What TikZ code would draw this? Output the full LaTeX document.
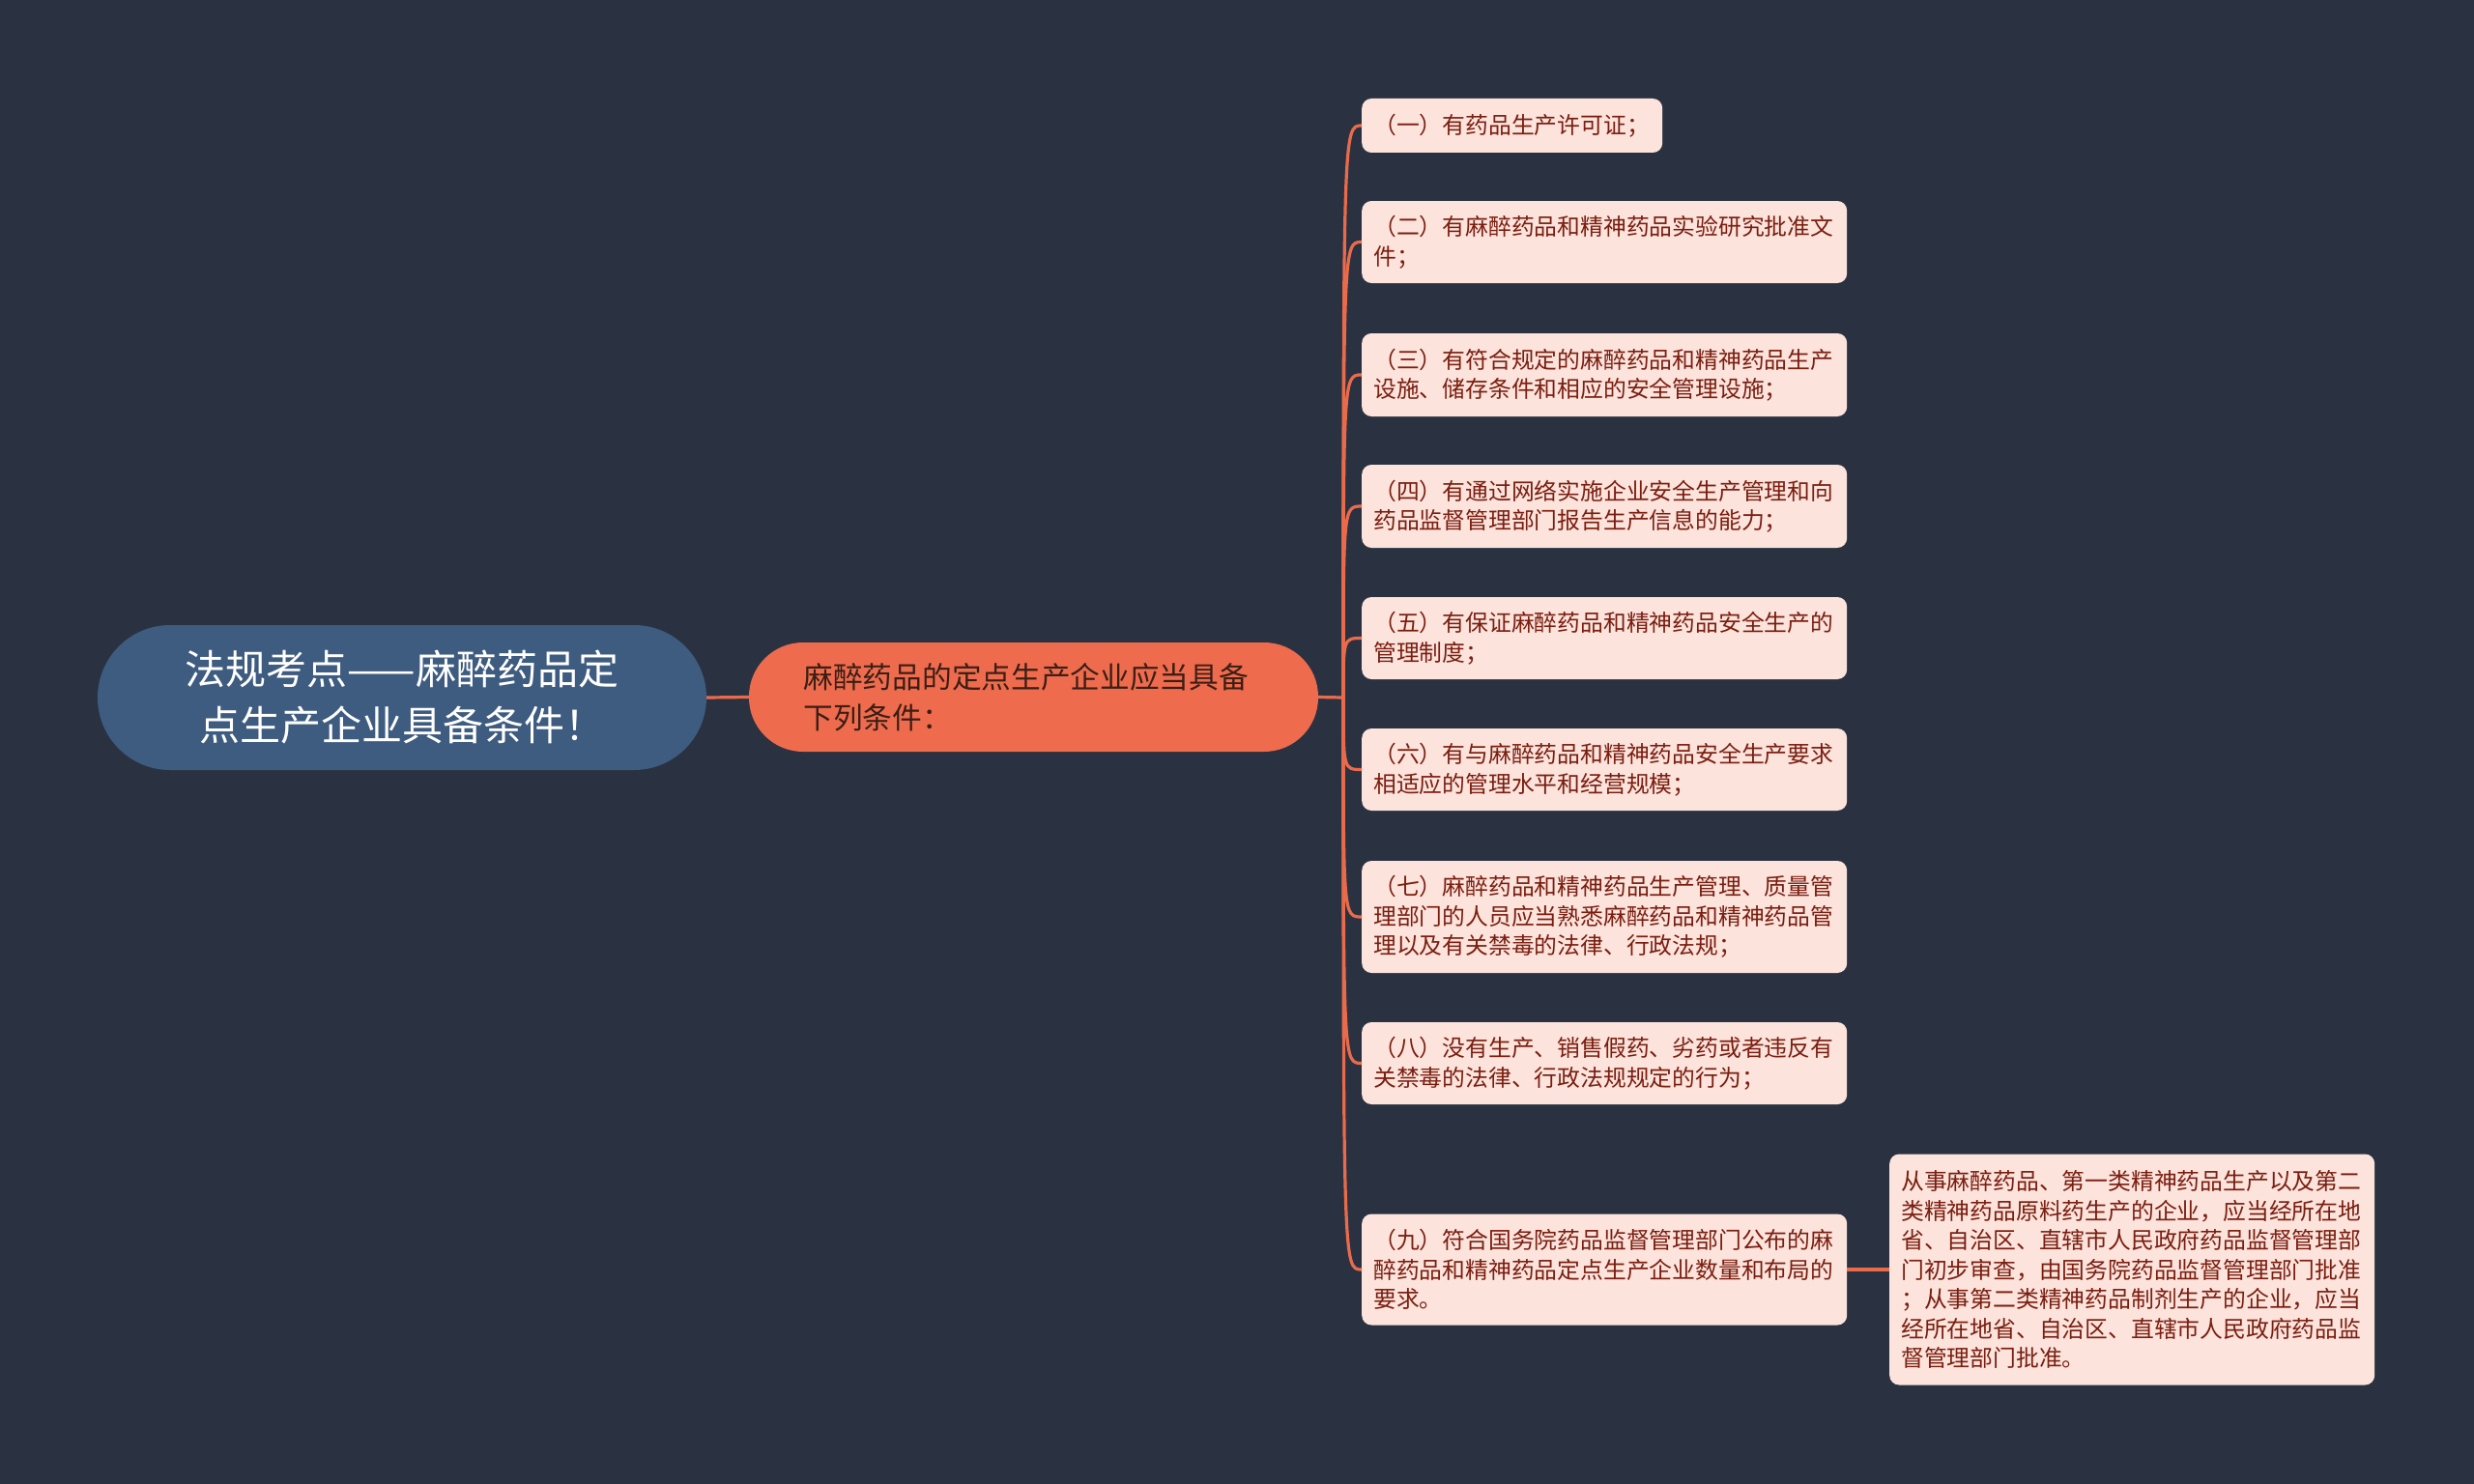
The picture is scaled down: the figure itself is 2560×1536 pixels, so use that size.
\documentclass[tikz,border=0pt]{standalone}
\usepackage{fontspec}
\setmainfont{Noto Sans CJK SC}
\usetikzlibrary{positioning}
\definecolor{bgnavy}{HTML}{2A3241}
\definecolor{rootblue}{HTML}{3E5B80}
\definecolor{mainorange}{HTML}{EE6C4D}
\definecolor{maintext}{HTML}{3B1E16}
\definecolor{leafpink}{HTML}{FCE3DC}
\definecolor{leaftext}{HTML}{7A1E10}
\definecolor{linkcol}{HTML}{EA6B4C}
\tikzset{
  root/.style={fill=rootblue,text=white,rounded corners=75pt,minimum width=630pt,
               minimum height=150pt,align=center,inner sep=0pt,
               font=\fontsize{42}{58}\selectfont},          % 中心主题
  branch/.style={fill=mainorange,text=maintext,rounded corners=56pt,minimum width=589pt,
                 minimum height=113pt,text width=476pt,align=left,inner xsep=56.5pt,
                 inner ysep=0pt,font=\fontsize{30.7}{42}\selectfont}, % 二级主题
  leaf/.style={fill=leafpink,text=leaftext,rounded corners=10pt,text width=478pt,
               align=left,anchor=west,inner xsep=12pt,inner ysep=0pt,
               font=\fontsize{23.8}{30.5}\selectfont},      % 条件条目
  link/.style={draw=linkcol,line width=3.2pt}
}

\begin{document}
\begin{tikzpicture}[x=1pt,y=-1pt]
  \useasboundingbox (0,0) rectangle (2560,1536);
  \fill[bgnavy] (0,0) rectangle (2560,1536);

  \node[root]   (root) at (416,722)    {法规考点——麻醉药品定\\点生产企业具备条件！};
  \node[branch] (cond) at (1069.5,721.5) {麻醉药品的定点生产企业应当具备\\下列条件：};
  \draw[link] (root.east) -- (cond.west);

  \node[leaf,text width=287pt,minimum height=56pt] (t1) at (1409,130) {（一）有药品生产许可证；};
  \node[leaf,minimum height=85pt]  (t2) at (1409,250.5) {（二）有麻醉药品和精神药品实验研究批准文\\件；};
  \node[leaf,minimum height=86pt]  (t3) at (1409,388)   {（三）有符合规定的麻醉药品和精神药品生产\\设施、储存条件和相应的安全管理设施；};
  \node[leaf,minimum height=86pt]  (t4) at (1409,524)   {（四）有通过网络实施企业安全生产管理和向\\药品监督管理部门报告生产信息的能力；};
  \node[leaf,minimum height=85pt]  (t5) at (1409,660.5) {（五）有保证麻醉药品和精神药品安全生产的\\管理制度；};
  \node[leaf,minimum height=85pt]  (t6) at (1409,796.5) {（六）有与麻醉药品和精神药品安全生产要求\\相适应的管理水平和经营规模；};
  \node[leaf,minimum height=116pt] (t7) at (1409,949)   {（七）麻醉药品和精神药品生产管理、质量管\\理部门的人员应当熟悉麻醉药品和精神药品管\\理以及有关禁毒的法律、行政法规；};
  \node[leaf,minimum height=85pt]  (t8) at (1409,1100.5) {（八）没有生产、销售假药、劣药或者违反有\\关禁毒的法律、行政法规规定的行为；};
  \node[leaf,minimum height=115pt] (t9) at (1409,1314)  {（九）符合国务院药品监督管理部门公布的麻\\醉药品和精神药品定点生产企业数量和布局的\\要求。};
  \node[leaf,minimum height=239pt] (note) at (1955,1314)
    {从事麻醉药品、第一类精神药品生产以及第二\\类精神药品原料药生产的企业，应当经所在地\\省、自治区、直辖市人民政府药品监督管理部\\门初步审查，由国务院药品监督管理部门批准\\；从事第二类精神药品制剂生产的企业，应当\\经所在地省、自治区、直辖市人民政府药品监\\督管理部门批准。};

  \coordinate (hub) at (1390,722);
  \draw[link] (cond.east) -- (hub);
  \draw[link] (hub) .. controls (hub |- t1.west) .. (t1.west);
  \draw[link] (hub) .. controls (hub |- t2.west) .. (t2.west);
  \draw[link] (hub) .. controls (hub |- t3.west) .. (t3.west);
  \draw[link] (hub) .. controls (hub |- t4.west) .. (t4.west);
  \draw[link] (hub) .. controls (hub |- t5.west) .. (t5.west);
  \draw[link] (hub) .. controls (hub |- t6.west) .. (t6.west);
  \draw[link] (hub) .. controls (hub |- t7.west) .. (t7.west);
  \draw[link] (hub) .. controls (hub |- t8.west) .. (t8.west);
  \draw[link] (hub) .. controls (hub |- t9.west) .. (t9.west);
  \draw[link] (t9.east) -- (note.west);
\end{tikzpicture}
\end{document}
